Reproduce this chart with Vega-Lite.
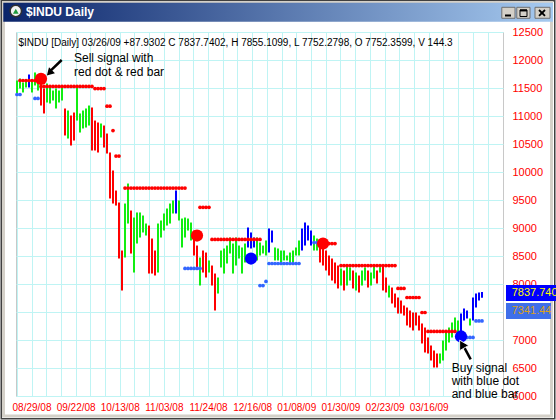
{
  "$schema": "https://vega.github.io/schema/vega-lite/v6.json",
  "width": 487,
  "height": 364,
  "autosize": {"type": "none"},
  "padding": {"left": 16, "top": 32, "right": 53, "bottom": 24},
  "background": "#FFFFFF",
  "config": {
    "font": "Liberation Sans",
    "view": {"stroke": "#C8C8C8", "strokeWidth": 1}
  },
  "datasets": {
    "bars": [
      {"i":0,"h":11634,"l":11402,"ph":"hold"},{"i":1,"h":11670,"l":11491,"ph":"hold"},{"i":2,"h":11598,"l":11420,"ph":"hold"},{"i":3,"h":11634,"l":11509,"ph":"hold"},
      {"i":4,"h":11741,"l":11509,"ph":"buy"},{"i":5,"h":11634,"l":11420,"ph":"hold"},{"i":6,"h":11777,"l":11545,"ph":"hold"},{"i":7,"h":11723,"l":11455,"ph":"hold"},
      {"i":8,"h":11670,"l":11187,"ph":"sell"},{"i":9,"h":11491,"l":11045,"ph":"sell"},{"i":10,"h":11580,"l":11241,"ph":"hold"},{"i":11,"h":11509,"l":11223,"ph":"hold"},
      {"i":12,"h":11455,"l":11277,"ph":"hold"},{"i":13,"h":11491,"l":11134,"ph":"hold"},{"i":14,"h":11455,"l":11241,"ph":"hold"},{"i":15,"h":11509,"l":11277,"ph":"hold"},
      {"i":16,"h":11134,"l":10652,"ph":"sell"},{"i":17,"h":11098,"l":10598,"ph":"hold"},{"i":18,"h":11009,"l":10473,"ph":"sell"},{"i":19,"h":11062,"l":10562,"ph":"sell"},
      {"i":20,"h":11545,"l":10919,"ph":"hold"},{"i":21,"h":11045,"l":10705,"ph":"hold"},{"i":22,"h":11098,"l":10777,"ph":"hold"},{"i":23,"h":11134,"l":10794,"ph":"hold"},
      {"i":24,"h":11187,"l":10830,"ph":"hold"},{"i":25,"h":11152,"l":10384,"ph":"sell"},{"i":26,"h":10919,"l":10384,"ph":"sell"},{"i":27,"h":10884,"l":10348,"ph":"sell"},
      {"i":28,"h":10866,"l":10616,"ph":"hold"},{"i":29,"h":10830,"l":10437,"ph":"sell"},{"i":30,"h":10687,"l":10330,"ph":"sell"},{"i":31,"h":10348,"l":9527,"ph":"sell"},
      {"i":32,"h":10027,"l":9437,"ph":"sell"},{"i":33,"h":9669,"l":9401,"ph":"sell"},{"i":34,"h":9455,"l":8455,"ph":"sell"},{"i":35,"h":8598,"l":7884,"ph":"sell"},
      {"i":36,"h":9437,"l":8473,"ph":"hold"},{"i":37,"h":9794,"l":9080,"ph":"hold"},{"i":38,"h":9312,"l":8544,"ph":"sell"},{"i":39,"h":9187,"l":8205,"ph":"hold"},
      {"i":40,"h":9277,"l":8723,"ph":"hold"},{"i":41,"h":9277,"l":8830,"ph":"hold"},{"i":42,"h":9223,"l":8920,"ph":"hold"},{"i":43,"h":9080,"l":8866,"ph":"hold"},
      {"i":44,"h":9044,"l":8187,"ph":"sell"},{"i":45,"h":8812,"l":8187,"ph":"sell"},{"i":46,"h":8598,"l":8152,"ph":"sell"},{"i":47,"h":9080,"l":8205,"ph":"hold"},
      {"i":48,"h":9134,"l":8830,"ph":"hold"},{"i":49,"h":9259,"l":8955,"ph":"hold"},{"i":50,"h":9348,"l":9044,"ph":"hold"},{"i":51,"h":9437,"l":9080,"ph":"hold"},
      {"i":52,"h":9491,"l":9259,"ph":"hold"},{"i":53,"h":9670,"l":9259,"ph":"buy"},{"i":54,"h":9491,"l":9134,"ph":"hold"},{"i":55,"h":9169,"l":8652,"ph":"hold"},
      {"i":56,"h":9187,"l":8830,"ph":"hold"},{"i":57,"h":9169,"l":8955,"ph":"hold"},{"i":58,"h":9098,"l":8777,"ph":"hold"},{"i":59,"h":8955,"l":8509,"ph":"sell"},
      {"i":60,"h":8687,"l":8295,"ph":"sell"},{"i":61,"h":8473,"l":7973,"ph":"hold"},{"i":62,"h":8598,"l":8205,"ph":"sell"},{"i":63,"h":8562,"l":8116,"ph":"sell"},
      {"i":64,"h":8420,"l":8205,"ph":"hold"},{"i":65,"h":8330,"l":7973,"ph":"sell"},{"i":66,"h":8187,"l":7527,"ph":"sell"},{"i":67,"h":8116,"l":7830,"ph":"hold"},
      {"i":68,"h":8598,"l":8295,"ph":"hold"},{"i":69,"h":8634,"l":8187,"ph":"hold"},{"i":70,"h":8687,"l":8366,"ph":"hold"},{"i":71,"h":8830,"l":8545,"ph":"hold"},
      {"i":72,"h":8723,"l":8187,"ph":"hold"},{"i":73,"h":8830,"l":8330,"ph":"hold"},{"i":74,"h":8687,"l":8455,"ph":"hold"},{"i":75,"h":8652,"l":8187,"ph":"hold"},
      {"i":76,"h":8723,"l":8384,"ph":"hold"},{"i":77,"h":9009,"l":8652,"ph":"buy"},{"i":78,"h":8920,"l":8634,"ph":"buy"},{"i":79,"h":8830,"l":8652,"ph":"buy"},
      {"i":80,"h":8830,"l":8420,"ph":"hold"},{"i":81,"h":8741,"l":8509,"ph":"hold"},{"i":82,"h":8687,"l":8545,"ph":"hold"},{"i":83,"h":8777,"l":8509,"ph":"hold"},
      {"i":84,"h":8991,"l":8562,"ph":"buy"},{"i":85,"h":8955,"l":8741,"ph":"buy"},{"i":86,"h":8652,"l":8420,"ph":"hold"},{"i":87,"h":8634,"l":8420,"ph":"hold"},
      {"i":88,"h":8598,"l":8384,"ph":"hold"},{"i":89,"h":8598,"l":8420,"ph":"hold"},{"i":90,"h":8509,"l":8420,"ph":"hold"},{"i":91,"h":8562,"l":8384,"ph":"hold"},
      {"i":92,"h":8598,"l":8384,"ph":"hold"},{"i":93,"h":8652,"l":8509,"ph":"hold"},{"i":94,"h":8777,"l":8509,"ph":"hold"},{"i":95,"h":8991,"l":8598,"ph":"buy"},
      {"i":96,"h":9098,"l":8687,"ph":"buy"},{"i":97,"h":9045,"l":8777,"ph":"buy"},{"i":98,"h":8955,"l":8687,"ph":"buy"},{"i":99,"h":8866,"l":8598,"ph":"hold"},
      {"i":100,"h":8812,"l":8598,"ph":"hold"},{"i":101,"h":8777,"l":8384,"ph":"sell"},{"i":102,"h":8687,"l":8330,"ph":"sell"},{"i":103,"h":8598,"l":8241,"ph":"sell"},
      {"i":104,"h":8509,"l":8152,"ph":"sell"},{"i":105,"h":8455,"l":8062,"ph":"sell"},{"i":106,"h":8384,"l":8009,"ph":"sell"},{"i":107,"h":8330,"l":7920,"ph":"sell"},
      {"i":108,"h":8277,"l":7973,"ph":"hold"},{"i":109,"h":8241,"l":7884,"ph":"sell"},{"i":110,"h":8313,"l":7973,"ph":"hold"},{"i":111,"h":8295,"l":8062,"ph":"hold"},
      {"i":112,"h":8241,"l":7920,"ph":"sell"},{"i":113,"h":8205,"l":7884,"ph":"hold"},{"i":114,"h":8152,"l":7848,"ph":"sell"},{"i":115,"h":8241,"l":7973,"ph":"hold"},
      {"i":116,"h":8295,"l":8062,"ph":"hold"},{"i":117,"h":8241,"l":7937,"ph":"sell"},{"i":118,"h":8205,"l":7973,"ph":"hold"},{"i":119,"h":8313,"l":8098,"ph":"hold"},
      {"i":120,"h":8241,"l":8009,"ph":"sell"},{"i":121,"h":8300,"l":8205,"ph":"hold"},{"i":122,"h":8310,"l":7884,"ph":"sell"},{"i":123,"h":8116,"l":7848,"ph":"sell"},
      {"i":124,"h":7973,"l":7759,"ph":"hold"},{"i":125,"h":7937,"l":7652,"ph":"sell"},{"i":126,"h":7830,"l":7580,"ph":"sell"},{"i":127,"h":7759,"l":7473,"ph":"sell"},
      {"i":128,"h":7705,"l":7473,"ph":"sell"},{"i":129,"h":7616,"l":7437,"ph":"sell"},{"i":130,"h":7580,"l":7259,"ph":"sell"},{"i":131,"h":7527,"l":7223,"ph":"sell"},
      {"i":132,"h":7491,"l":7170,"ph":"sell"},{"i":133,"h":7491,"l":7259,"ph":"sell"},{"i":134,"h":7437,"l":7170,"ph":"sell"},{"i":135,"h":7295,"l":6938,"ph":"sell"},
      {"i":136,"h":7223,"l":6777,"ph":"sell"},{"i":137,"h":7045,"l":6759,"ph":"sell"},{"i":138,"h":6902,"l":6634,"ph":"sell"},{"i":139,"h":6812,"l":6509,"ph":"sell"},
      {"i":140,"h":6759,"l":6509,"ph":"sell"},{"i":141,"h":6759,"l":6580,"ph":"hold"},{"i":142,"h":6991,"l":6634,"ph":"hold"},{"i":143,"h":7134,"l":6812,"ph":"hold"},
      {"i":144,"h":7223,"l":6955,"ph":"hold"},{"i":145,"h":7313,"l":7045,"ph":"hold"},{"i":146,"h":7402,"l":7134,"ph":"hold"},{"i":147,"h":7348,"l":7134,"ph":"hold"},
      {"i":148,"h":7473,"l":7134,"ph":"buy"},{"i":149,"h":7562,"l":7348,"ph":"buy"},{"i":150,"h":7527,"l":7384,"ph":"buy"},{"i":151,"h":7384,"l":7259,"ph":"hold"},
      {"i":152,"h":7759,"l":7348,"ph":"buy"},{"i":153,"h":7830,"l":7580,"ph":"buy"},{"i":154,"h":7848,"l":7705,"ph":"buy"},{"i":155,"h":7855.1099,"l":7752.2798,"ph":"buy"}
    ],
    "stops": [
      {"i":1,"p":11634,"s":"sell"},{"i":2,"p":11634,"s":"sell"},{"i":3,"p":11634,"s":"sell"},{"i":4,"p":11634,"s":"sell"},{"i":5,"p":11634,"s":"sell"},{"i":6,"p":11634,"s":"sell"},
      {"i":8,"p":11527,"s":"sell"},{"i":9,"p":11527,"s":"sell"},{"i":10,"p":11527,"s":"sell"},{"i":11,"p":11527,"s":"sell"},{"i":12,"p":11527,"s":"sell"},{"i":13,"p":11527,"s":"sell"},
      {"i":14,"p":11527,"s":"sell"},{"i":15,"p":11527,"s":"sell"},{"i":16,"p":11527,"s":"sell"},{"i":17,"p":11527,"s":"sell"},{"i":18,"p":11527,"s":"sell"},{"i":19,"p":11527,"s":"sell"},
      {"i":20,"p":11527,"s":"sell"},{"i":21,"p":11527,"s":"sell"},{"i":22,"p":11527,"s":"sell"},{"i":23,"p":11527,"s":"sell"},{"i":24,"p":11527,"s":"sell"},{"i":25,"p":11527,"s":"sell"},
      {"i":26,"p":11491,"s":"sell"},{"i":27,"p":11491,"s":"sell"},{"i":28,"p":11491,"s":"sell"},{"i":29,"p":11491,"s":"sell"},
      {"i":30,"p":11175,"s":"sell"},{"i":31,"p":11175,"s":"sell"},{"i":32,"p":10741,"s":"sell"},{"i":33,"p":10285,"s":"sell"},{"i":34,"p":10285,"s":"sell"},
      {"i":36,"p":9714,"s":"sell"},{"i":37,"p":9714,"s":"sell"},{"i":38,"p":9714,"s":"sell"},{"i":39,"p":9714,"s":"sell"},{"i":40,"p":9714,"s":"sell"},{"i":41,"p":9714,"s":"sell"},
      {"i":42,"p":9714,"s":"sell"},{"i":43,"p":9714,"s":"sell"},{"i":44,"p":9714,"s":"sell"},{"i":45,"p":9714,"s":"sell"},{"i":46,"p":9714,"s":"sell"},{"i":47,"p":9714,"s":"sell"},
      {"i":48,"p":9714,"s":"sell"},{"i":49,"p":9714,"s":"sell"},{"i":50,"p":9714,"s":"sell"},{"i":51,"p":9714,"s":"sell"},{"i":52,"p":9714,"s":"sell"},{"i":53,"p":9714,"s":"sell"},
      {"i":54,"p":9714,"s":"sell"},{"i":55,"p":9714,"s":"sell"},{"i":56,"p":9714,"s":"sell"},
      {"i":61,"p":9370,"s":"sell"},{"i":62,"p":9370,"s":"sell"},{"i":63,"p":9370,"s":"sell"},{"i":64,"p":9370,"s":"sell"},
      {"i":65,"p":8795,"s":"sell"},{"i":66,"p":8795,"s":"sell"},{"i":67,"p":8795,"s":"sell"},{"i":68,"p":8795,"s":"sell"},{"i":69,"p":8795,"s":"sell"},{"i":70,"p":8795,"s":"sell"},
      {"i":71,"p":8795,"s":"sell"},{"i":72,"p":8795,"s":"sell"},{"i":73,"p":8795,"s":"sell"},{"i":74,"p":8795,"s":"sell"},{"i":75,"p":8795,"s":"sell"},{"i":76,"p":8795,"s":"sell"},
      {"i":77,"p":8795,"s":"sell"},{"i":78,"p":8795,"s":"sell"},{"i":79,"p":8795,"s":"sell"},{"i":80,"p":8795,"s":"sell"},{"i":81,"p":8795,"s":"sell"},
      {"i":103,"p":8723,"s":"sell"},{"i":104,"p":8723,"s":"sell"},{"i":105,"p":8723,"s":"sell"},{"i":106,"p":8723,"s":"sell"},
      {"i":108,"p":8330,"s":"sell"},{"i":109,"p":8330,"s":"sell"},{"i":110,"p":8330,"s":"sell"},{"i":111,"p":8330,"s":"sell"},{"i":112,"p":8330,"s":"sell"},{"i":113,"p":8330,"s":"sell"},
      {"i":114,"p":8330,"s":"sell"},{"i":115,"p":8330,"s":"sell"},{"i":116,"p":8330,"s":"sell"},{"i":117,"p":8330,"s":"sell"},{"i":118,"p":8330,"s":"sell"},{"i":119,"p":8330,"s":"sell"},
      {"i":120,"p":8330,"s":"sell"},{"i":121,"p":8330,"s":"sell"},{"i":122,"p":8330,"s":"sell"},{"i":123,"p":8330,"s":"sell"},{"i":124,"p":8330,"s":"sell"},{"i":125,"p":8330,"s":"sell"},
      {"i":126,"p":8330,"s":"sell"},
      {"i":127,"p":7920,"s":"sell"},{"i":128,"p":7920,"s":"sell"},{"i":129,"p":7920,"s":"sell"},
      {"i":130,"p":7759,"s":"sell"},{"i":131,"p":7759,"s":"sell"},{"i":132,"p":7759,"s":"sell"},{"i":133,"p":7759,"s":"sell"},{"i":134,"p":7759,"s":"sell"},
      {"i":135,"p":7491,"s":"sell"},{"i":136,"p":7491,"s":"sell"},
      {"i":137,"p":7152,"s":"sell"},{"i":138,"p":7152,"s":"sell"},{"i":139,"p":7152,"s":"sell"},{"i":140,"p":7152,"s":"sell"},{"i":141,"p":7152,"s":"sell"},
      {"i":142,"p":7152,"s":"sell"},{"i":143,"p":7152,"s":"sell"},{"i":144,"p":7152,"s":"sell"},{"i":145,"p":7152,"s":"sell"},{"i":146,"p":7152,"s":"sell"},
      {"i":0,"p":11384,"s":"buy"},{"i":1,"p":11384,"s":"buy"},{"i":6,"p":11313,"s":"buy"},{"i":7,"p":11313,"s":"buy"},
      {"i":56,"p":8277,"s":"buy"},{"i":57,"p":8277,"s":"buy"},{"i":58,"p":8277,"s":"buy"},{"i":59,"p":8277,"s":"buy"},{"i":60,"p":8277,"s":"buy"},{"i":61,"p":8277,"s":"buy"},
      {"i":81,"p":7973,"s":"buy"},{"i":82,"p":7973,"s":"buy"},{"i":83,"p":8045,"s":"buy"},
      {"i":84,"p":8366,"s":"buy"},{"i":85,"p":8366,"s":"buy"},{"i":86,"p":8366,"s":"buy"},{"i":87,"p":8366,"s":"buy"},{"i":88,"p":8366,"s":"buy"},{"i":89,"p":8366,"s":"buy"},
      {"i":90,"p":8366,"s":"buy"},{"i":91,"p":8366,"s":"buy"},{"i":92,"p":8366,"s":"buy"},{"i":93,"p":8366,"s":"buy"},{"i":94,"p":8366,"s":"buy"},
      {"i":99,"p":8740,"s":"buy"},{"i":100,"p":8740,"s":"buy"},
      {"i":150,"p":7045,"s":"buy"},{"i":151,"p":7045,"s":"buy"},{"i":152,"p":7045,"s":"buy"},
      {"i":153,"p":7341.44,"s":"buy"},{"i":154,"p":7341.44,"s":"buy"},{"i":155,"p":7341.44,"s":"buy"}
    ],
    "signals": [
      {"i":8,"p":11664,"sig":"sell"},
      {"i":60,"p":8866,"sig":"sell"},
      {"i":78,"p":8455,"sig":"buy"},
      {"i":102,"p":8723,"sig":"sell"},
      {"i":148,"p":7063,"sig":"buy"}
    ],
    "one": [{}]
  },
  "layer": [
    {
      "data": {"name": "bars"},
      "mark": {"type": "rule", "strokeWidth": 2},
      "encoding": {
        "x": {
          "field": "i", "type": "quantitative", "title": null,
          "scale": {"domain": [-0.3333, 162], "nice": false, "zero": false},
          "axis": {
            "title": null, "orient": "bottom", "domain": false, "ticks": false,
            "grid": true, "gridColor": "#BFF4F4", "gridWidth": 1, "tickCount": 1000,
            "values": [-0.067, 4.836, 9.74, 14.643, 19.546, 24.45, 29.353, 34.256, 39.16, 44.063, 48.966, 53.869, 58.773, 63.676, 68.579, 73.483, 78.386, 83.289, 88.193, 93.096, 97.999, 102.902, 107.806, 112.709, 117.612, 122.516, 127.419, 132.322, 137.226, 142.129, 147.032, 151.935, 156.839],
            "labelExpr": "['', '08/29/08', '', '', '09/22/08', '', '', '10/13/08', '', '', '11/03/08', '', '', '11/24/08', '', '', '12/16/08', '', '', '01/08/09', '', '', '01/30/09', '', '', '02/23/09', '', '', '03/16/09', '', '', '', ''][round((datum.value + 0.067) / 4.9033)] || ''",
            "labelColor": "#FF0000", "labelFont": "Liberation Sans", "labelFontSize": 10,
            "labelPadding": 6, "labelOverlap": false, "labelFlush": false
          }
        },
        "y": {
          "field": "h", "type": "quantitative", "title": null,
          "scale": {"domain": [6000, 12500], "nice": false, "zero": false},
          "axis": {
            "title": null, "orient": "right", "domain": false, "ticks": false,
            "grid": true, "gridColor": "#BFF4F4", "gridWidth": 1, "tickCount": 1000,
            "values": [6000, 6500, 7000, 7500, 8000, 8500, 9000, 9500, 10000, 10500, 11000, 11500, 12000, 12500],
            "format": "d",
            "labelColor": "#FF0000", "labelFont": "Liberation Sans", "labelFontSize": 11,
            "labelPadding": 9, "labelOverlap": false, "labelFlush": false
          }
        },
        "y2": {"field": "l"},
        "color": {
          "field": "ph", "type": "nominal", "legend": null,
          "scale": {"domain": ["sell", "hold", "buy"], "range": ["#FF0000", "#11EE11", "#0000FF"]}
        }
      }
    },
    {
      "data": {"name": "stops"},
      "mark": {"type": "point", "shape": "circle", "filled": true, "size": 14, "opacity": 1},
      "encoding": {
        "x": {"field": "i", "type": "quantitative", "title": null},
        "y": {"field": "p", "type": "quantitative", "title": null},
        "color": {
          "field": "s", "type": "nominal", "legend": null,
          "scale": {"domain": ["sell", "buy"], "range": ["#FF0000", "#3366FF"]}
        }
      }
    },
    {
      "data": {"name": "signals"},
      "mark": {"type": "point", "shape": "circle", "filled": true, "size": 150, "opacity": 1},
      "encoding": {
        "x": {"field": "i", "type": "quantitative", "title": null},
        "y": {"field": "p", "type": "quantitative", "title": null},
        "color": {
          "field": "sig", "type": "nominal", "legend": null,
          "scale": {"domain": ["sell", "buy"], "range": ["#FF0000", "#0000FF"]}
        }
      }
    },
    {
      "data": {"name": "one"},
      "mark": {"type": "rect", "fillOpacity": 0, "stroke": "#404040", "strokeWidth": 1.5},
      "encoding": {
        "x": {"datum": -5.25, "type": "quantitative", "title": null}, "x2": {"datum": 179.25},
        "y": {"datum": 13058, "type": "quantitative", "title": null}, "y2": {"datum": 5594}
      }
    },
    {
      "data": {"name": "one"},
      "mark": {"type": "rect", "fillOpacity": 0, "stroke": "#D4D0C8", "strokeWidth": 3},
      "encoding": {
        "x": {"datum": -4.5, "type": "quantitative", "title": null}, "x2": {"datum": 178.17},
        "y": {"datum": 13027, "type": "quantitative", "title": null}, "y2": {"datum": 5643}
      }
    },
    {
      "data": {"name": "one"},
      "mark": {
        "type": "rect",
        "fill": {"gradient": "linear", "x1": 0, "y1": 0, "x2": 1, "y2": 0,
                 "stops": [{"offset": 0, "color": "#0A246A"}, {"offset": 1, "color": "#A6CAF0"}]}
      },
      "encoding": {
        "x": {"datum": -4.57, "type": "quantitative", "title": null}, "x2": {"datum": 178.67},
        "y": {"datum": 13023, "type": "quantitative", "title": null}, "y2": {"datum": 12684}
      }
    },
    {
      "data": {"name": "one"},
      "mark": {"type": "point", "shape": "circle", "filled": true, "fill": "#F2F2F2", "stroke": "#303030", "strokeWidth": 1.5, "size": 130, "opacity": 1},
      "encoding": {"x": {"datum": -0.4, "type": "quantitative", "title": null}, "y": {"datum": 12875, "type": "quantitative", "title": null}}
    },
    {
      "data": {"name": "one"},
      "mark": {"type": "point", "shape": "triangle-up", "filled": true, "fill": "#1E9A3C", "size": 32, "opacity": 1},
      "encoding": {"x": {"datum": -0.4, "type": "quantitative", "title": null}, "y": {"datum": 12870, "type": "quantitative", "title": null}}
    },
    {
      "data": {"name": "one"},
      "mark": {"type": "text", "text": "$INDU Daily", "align": "left", "baseline": "middle", "fontSize": 12, "fontWeight": "bold", "color": "#FFFFFF"},
      "encoding": {"x": {"datum": 3, "type": "quantitative", "title": null}, "y": {"datum": 12857, "type": "quantitative", "title": null}}
    },
    {
      "data": {"name": "one"},
      "mark": {"type": "rect", "fill": "#D4D0C8", "stroke": "#707070", "strokeWidth": 1},
      "encoding": {
        "x": {"datum": 161.6, "type": "quantitative", "title": null}, "x2": {"datum": 166},
        "y": {"datum": 12941, "type": "quantitative", "title": null}, "y2": {"datum": 12745}
      }
    },
    {
      "data": {"name": "one"},
      "mark": {"type": "rect", "fill": "#D4D0C8", "stroke": "#707070", "strokeWidth": 1},
      "encoding": {
        "x": {"datum": 166.6, "type": "quantitative", "title": null}, "x2": {"datum": 171},
        "y": {"datum": 12941, "type": "quantitative", "title": null}, "y2": {"datum": 12745}
      }
    },
    {
      "data": {"name": "one"},
      "mark": {"type": "rect", "fill": "#D4D0C8", "stroke": "#707070", "strokeWidth": 1},
      "encoding": {
        "x": {"datum": 172.67, "type": "quantitative", "title": null}, "x2": {"datum": 177.67},
        "y": {"datum": 12941, "type": "quantitative", "title": null}, "y2": {"datum": 12745}
      }
    },
    {
      "data": {"name": "one"},
      "mark": {"type": "rule", "color": "#000000", "strokeWidth": 2},
      "encoding": {
        "x": {"datum": 162.67, "type": "quantitative", "title": null}, "x2": {"datum": 164.67},
        "y": {"datum": 12795, "type": "quantitative", "title": null}
      }
    },
    {
      "data": {"name": "one"},
      "mark": {"type": "rect", "fillOpacity": 0, "stroke": "#000000", "strokeWidth": 1},
      "encoding": {
        "x": {"datum": 167.67, "type": "quantitative", "title": null}, "x2": {"datum": 170},
        "y": {"datum": 12893, "type": "quantitative", "title": null}, "y2": {"datum": 12777}
      }
    },
    {
      "data": {"name": "one"},
      "mark": {"type": "rule", "color": "#000000", "strokeWidth": 2},
      "encoding": {
        "x": {"datum": 167.67, "type": "quantitative", "title": null}, "x2": {"datum": 170},
        "y": {"datum": 12885, "type": "quantitative", "title": null}
      }
    },
    {
      "data": {"name": "one"},
      "mark": {"type": "rule", "color": "#000000", "strokeWidth": 1.8},
      "encoding": {
        "x": {"datum": 174, "type": "quantitative", "title": null}, "x2": {"datum": 176},
        "y": {"datum": 12893, "type": "quantitative", "title": null}, "y2": {"datum": 12786}
      }
    },
    {
      "data": {"name": "one"},
      "mark": {"type": "rule", "color": "#000000", "strokeWidth": 1.8},
      "encoding": {
        "x": {"datum": 174, "type": "quantitative", "title": null}, "x2": {"datum": 176},
        "y": {"datum": 12786, "type": "quantitative", "title": null}, "y2": {"datum": 12893}
      }
    },
    {
      "data": {"name": "one"},
      "mark": {"type": "rule", "color": "#000000", "strokeWidth": 2.5},
      "encoding": {
        "x": {"datum": 14.9, "type": "quantitative", "title": null}, "x2": {"datum": 10.6},
        "y": {"datum": 12000, "type": "quantitative", "title": null}, "y2": {"datum": 11780}
      }
    },
    {
      "data": {"name": "one"},
      "mark": {"type": "point", "shape": "triangle-up", "filled": true, "fill": "#000000", "size": 70, "angle": 225, "opacity": 1},
      "encoding": {"x": {"datum": 10.8, "type": "quantitative", "title": null}, "y": {"datum": 11771, "type": "quantitative", "title": null}}
    },
    {
      "data": {"name": "one"},
      "mark": {"type": "rule", "color": "#000000", "strokeWidth": 2.5},
      "encoding": {
        "x": {"datum": 151.23, "type": "quantitative", "title": null}, "x2": {"datum": 148.4},
        "y": {"datum": 6655, "type": "quantitative", "title": null}, "y2": {"datum": 6935}
      }
    },
    {
      "data": {"name": "one"},
      "mark": {"type": "point", "shape": "triangle-up", "filled": true, "fill": "#000000", "stroke": "#FFFFFF", "strokeWidth": 0.8, "size": 110, "angle": 330, "opacity": 1},
      "encoding": {"x": {"datum": 148.3, "type": "quantitative", "title": null}, "y": {"datum": 6927, "type": "quantitative", "title": null}}
    },
    {
      "data": {"name": "one"},
      "mark": {"type": "text", "text": ["Sell signal with", "red dot & red bar"], "align": "left", "baseline": "alphabetic", "fontSize": 12, "lineHeight": 14, "color": "#000000"},
      "encoding": {"x": {"datum": 19, "type": "quantitative", "title": null}, "y": {"datum": 11964, "type": "quantitative", "title": null}}
    },
    {
      "data": {"name": "one"},
      "mark": {"type": "text", "text": ["Buy signal", "with blue dot", "and blue bar"], "align": "left", "baseline": "alphabetic", "fontSize": 12, "lineHeight": 13.4, "color": "#000000"},
      "encoding": {"x": {"datum": 144.9, "type": "quantitative", "title": null}, "y": {"datum": 6437, "type": "quantitative", "title": null}}
    },
    {
      "data": {"name": "one"},
      "mark": {"type": "text", "text": "$INDU [Daily] 03/26/09  +87.9302 C 7837.7402, H 7855.1099, L 7752.2798, O 7752.3599, V 144.3", "align": "left", "baseline": "middle", "fontSize": 10, "color": "#000000"},
      "encoding": {"x": {"datum": 0.5, "type": "quantitative", "title": null}, "y": {"datum": 12304, "type": "quantitative", "title": null}}
    },
    {
      "data": {"name": "one"},
      "mark": {"type": "rect", "fill": "#0000FF", "height": 16},
      "encoding": {
        "x": {"datum": 163, "type": "quantitative", "title": null}, "x2": {"datum": 180},
        "y": {"datum": 7837.7402, "type": "quantitative", "title": null}
      }
    },
    {
      "data": {"name": "one"},
      "mark": {"type": "text", "text": "7837.7402", "align": "left", "baseline": "middle", "fontSize": 11, "color": "#FFFF00"},
      "encoding": {"x": {"datum": 164.9, "type": "quantitative", "title": null}, "y": {"datum": 7837.7402, "type": "quantitative", "title": null}}
    },
    {
      "data": {"name": "one"},
      "mark": {"type": "rect", "fill": "#3F6FEA", "height": 16, "yOffset": -10},
      "encoding": {
        "x": {"datum": 163, "type": "quantitative", "title": null}, "x2": {"datum": 178},
        "y": {"datum": 7341.44, "type": "quantitative", "title": null}
      }
    },
    {
      "data": {"name": "one"},
      "mark": {"type": "text", "text": "7341.44", "align": "left", "baseline": "middle", "fontSize": 11, "color": "#D8A020", "yOffset": -10},
      "encoding": {"x": {"datum": 164.9, "type": "quantitative", "title": null}, "y": {"datum": 7341.44, "type": "quantitative", "title": null}}
    }
  ],
  "resolve": {"scale": {"color": "independent"}}
}
